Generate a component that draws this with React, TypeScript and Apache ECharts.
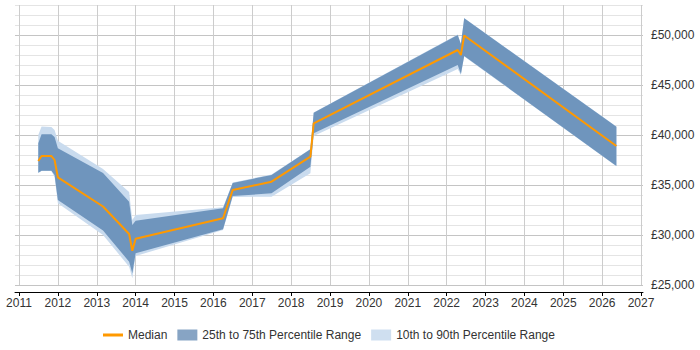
import { useEffect, useRef } from "react";
import * as echarts from "echarts";

// Sample dates (monthly snapshots) and salary percentiles in GBP
const dates = [
  "2011-07-01", "2011-08-01", "2011-11-01", "2011-12-01", "2012-01-01",
  "2013-03-01", "2013-11-01", "2013-12-01", "2014-01-01", "2016-04-01",
  "2016-07-01", "2017-07-01", "2018-07-01", "2018-08-01", "2022-04-15",
  "2022-05-15", "2022-06-15", "2026-05-15",
];
const median = [
  37400, 37900, 37900, 37500, 35770,
  32850, 30100, 28430, 29630, 31670,
  34500, 35330, 37830, 41170, 48500,
  48000, 49950, 38900,
];
const p10 = [
  36200, 36400, 36400, 35800, 33170,
  30000, 26830, 25670, 27900, 30500,
  33800, 33830, 36170, 39900, 46600,
  46000, 47850, 36880,
];
const p25 = [
  36230, 36430, 36430, 36000, 33500,
  30450, 27330, 26170, 28170, 30570,
  33900, 34170, 36830, 40170, 47000,
  46100, 47900, 36900,
];
const p75 = [
  39170, 40070, 40070, 39800, 38670,
  36200, 33330, 31000, 31430, 32670,
  35200, 36000, 38570, 42230, 50000,
  49100, 51670, 40830,
];
const p90 = [
  40000, 40850, 40800, 40500, 39430,
  36600, 34300, 31500, 32000, 32770,
  35250, 36050, 38600, 42250, 50050,
  49100, 51700, 40850,
];

const yearFirst = 2011;
const yearLast = 2027;
const salaryMin = 25000;
const salaryMax = 53000;

const FONT = "'Liberation Sans', Arial, Helvetica, sans-serif";

function toYear(s: string): number {
  const [y, m, d] = s.split("-").map(Number);
  const start = Date.UTC(y, 0, 1);
  const end = Date.UTC(y + 1, 0, 1);
  return y + (Date.UTC(y, m - 1, d) - start) / (end - start);
}

function money(v: number): string {
  return "£" + String(v).replace(/\B(?=(\d{3})+(?!\d))/g, ",");
}

export default function App() {
  const ref = useRef<HTMLDivElement>(null);

  useEffect(() => {
    document.body.style.margin = "0";
    const el = ref.current;
    if (!el) return;
    const chart = echarts.init(el, null, { renderer: "svg" });

    const xs = dates.map(toYear);

    const band = (name: string, lo: number[], hi: number[], color: string, z: number) => ({
      type: "custom",
      name,
      coordinateSystem: "cartesian2d",
      xAxisIndex: 1,
      yAxisIndex: 1,
      silent: true,
      z,
      itemStyle: { color },
      encode: { x: 0, y: [1, 2] },
      data: xs.map((x, i) => [x, lo[i], hi[i]]),
      renderItem: (params: any, api: any) => {
        if (params.dataIndex !== 0) return null;
        const top = xs.map((x, i) => api.coord([x, hi[i]]));
        const bottom = xs.map((x, i) => api.coord([x, lo[i]])).reverse();
        return {
          type: "polygon",
          shape: { points: top.concat(bottom) },
          style: { fill: color, stroke: null },
        };
      },
    });

    const minorGrid = "#e4e4e4";
    const majorGrid = "#c4c4c4";

    chart.setOption({
      animation: false,
      textStyle: { fontFamily: FONT },
      grid: [
        { left: 15, right: 57, top: 5, bottom: 65 },
        { left: 19, right: 59, top: 5, bottom: 65 },
      ],
      xAxis: [
        {
          gridIndex: 0,
          type: "value",
          min: 0,
          max: 1,
          offset: 7,
          axisLine: { show: true, onZero: false, lineStyle: { color: "#000", width: 1 } },
          axisTick: { show: false },
          axisLabel: { show: false },
          splitLine: { show: false },
        },
        {
          gridIndex: 1,
          type: "value",
          min: yearFirst,
          max: yearLast,
          interval: 1,
          offset: 7,
          axisLine: { show: false, onZero: false },
          axisTick: { show: true, length: 4, lineStyle: { color: "#000" } },
          axisLabel: {
            margin: 5,
            color: "#333",
            fontSize: 12,
            fontFamily: FONT,
            formatter: (v: number) => String(v),
          },
          splitLine: { show: true, lineStyle: { color: "#cccccc", width: 1 } },
        },
      ],
      yAxis: [
        {
          gridIndex: 0,
          type: "value",
          position: "right",
          min: salaryMin,
          max: salaryMax,
          interval: 1000,
          axisLine: { show: false },
          axisTick: { show: false },
          axisLabel: {
            margin: 8,
            color: "#333",
            fontSize: 12,
            fontFamily: FONT,
            formatter: (v: number) => (v % 5000 === 0 ? money(v) : ""),
          },
          splitLine: {
            show: true,
            lineStyle: {
              color: [majorGrid, minorGrid, minorGrid, minorGrid, minorGrid],
              width: 1,
            },
          },
        },
        {
          gridIndex: 1,
          type: "value",
          min: salaryMin,
          max: salaryMax,
          show: false,
        },
      ],
      legend: {
        left: 98,
        top: 324,
        itemWidth: 20,
        itemHeight: 11,
        itemGap: 10,
        selectedMode: false,
        textStyle: { color: "#333", fontSize: 12, fontFamily: FONT },
        data: [
          { name: "Median", icon: "path://M0,0H20V3H0Z", itemStyle: { color: "#ff9900" } },
          { name: "25th to 75th Percentile Range", icon: "rect", itemStyle: { color: "#87a4c4" } },
          { name: "10th to 90th Percentile Range", icon: "rect", itemStyle: { color: "#cfdff0" } },
        ],
      },
      series: [
        band("10th to 90th Percentile Range", p10, p90, "#c9dbee", 2),
        band("25th to 75th Percentile Range", p25, p75, "#6f95bd", 3),
        {
          type: "line",
          name: "Median",
          xAxisIndex: 1,
          yAxisIndex: 1,
          z: 5,
          symbol: "none",
          silent: true,
          lineStyle: { color: "#ff9900", width: 2 },
          itemStyle: { color: "#ff9900" },
          data: xs.map((x, i) => [x, median[i]]),
        },
      ],
    });

    return () => chart.dispose();
  }, []);

  return <div ref={ref} style={{ width: 700, height: 350 }} />;
}
